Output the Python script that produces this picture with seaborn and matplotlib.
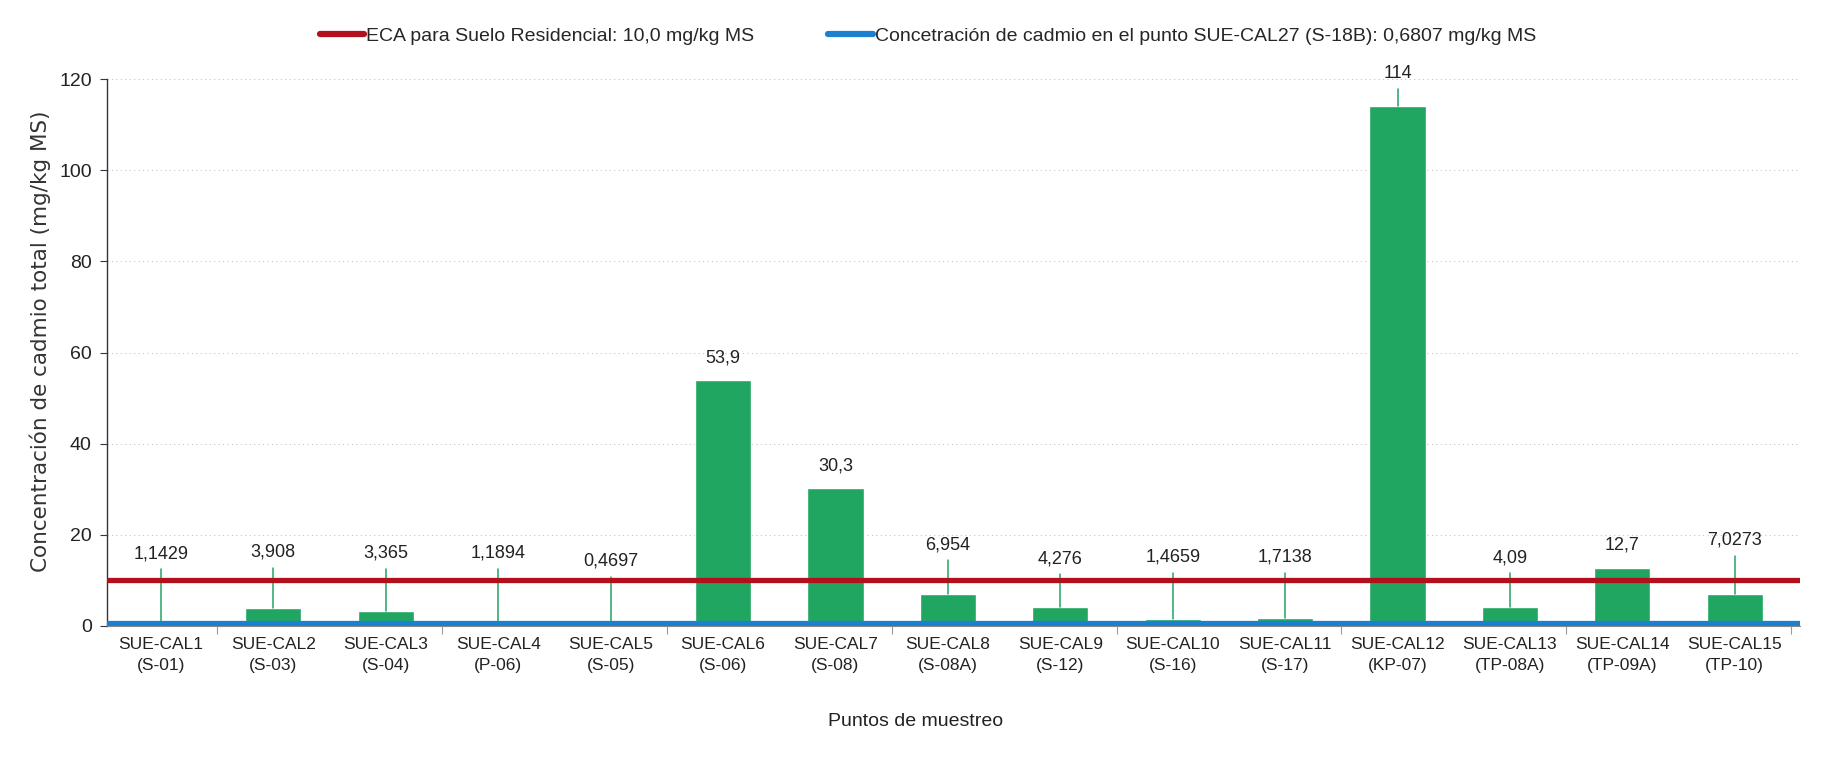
#! /usr/bin/env python3
'''
Concentracion de cadmio total por punto de muestreo (barras + ECA)
'''

import matplotlib
matplotlib.use('Agg')
import matplotlib.pyplot as plt
from matplotlib.lines import Line2D
import seaborn as sns
import pandas as pd

# data
puntos = ['SUE-CAL1', 'SUE-CAL2', 'SUE-CAL3', 'SUE-CAL4', 'SUE-CAL5', 'SUE-CAL6', 'SUE-CAL7', 'SUE-CAL8',
          'SUE-CAL9', 'SUE-CAL10', 'SUE-CAL11', 'SUE-CAL12', 'SUE-CAL13', 'SUE-CAL14', 'SUE-CAL15']
codigos = ['S-01', 'S-03', 'S-04', 'P-06', 'S-05', 'S-06', 'S-08', 'S-08A',
           'S-12', 'S-16', 'S-17', 'KP-07', 'TP-08A', 'TP-09A', 'TP-10']
cadmio = [1.1429, 3.908, 3.365, 1.1894, 0.4697, 53.9, 30.3, 6.954,
          4.276, 1.4659, 1.7138, 114, 4.09, 12.7, 7.0273]
eca = 10.0
referencia = 0.6807
yticks = [0, 20, 40, 60, 80, 100, 120]

# where the value labels sit
label_y = [15.9, 16.2, 16.0, 16.0, 14.2, 58.7, 35.1, 17.8, 14.8, 15.1, 15.1, 121.3, 15.0, 17.7, 18.8]

# styles
GREEN = '#20a661'
RED = '#b3101d'
BLUE = '#1c7fcf'
NARROW = ['Liberation Sans Narrow', 'Liberation Sans', 'DejaVu Sans']

sns.set_style('white')
plt.rcParams['font.family'] = NARROW

df = pd.DataFrame({'punto': ['%s\n(%s)' % (p, c) for p, c in zip(puntos, codigos)], 'cadmio': cadmio})

fig = plt.figure(figsize=(18.3, 7.6), dpi=100)
ax = fig.add_axes([107 / 1830, 1 - 626 / 760, (1800 - 107) / 1830, (626 - 79) / 760])

sns.barplot(data=df, x='punto', y='cadmio', color=GREEN, saturation=1, width=0.5, ax=ax, zorder=2)
ax.set_xlim(-0.48, 14.58)
ax.set_ylim(0, 120)
ax.set_yticks(yticks)

# reference lines
ax.axhline(eca, color=RED, lw=3.8, zorder=3)
ax.axhline(referencia, color=BLUE, lw=3.8, zorder=3)

# value labels with leader lines
for i, (v, ly) in enumerate(zip(cadmio, label_y)):
    txt = str(v).replace('.', ',')
    ax.text(i, ly, txt, ha='center', va='center', fontsize=13, color='#222222', clip_on=False, zorder=4)
    top = ly - 3.4
    if top - v > 2:
        ax.plot([i, i], [v, top], color=GREEN, lw=1.1, zorder=2.5, clip_on=False)

# grid and axes
ax.yaxis.grid(True, linestyle=(0, (1, 3)), color='#c4c4c4', lw=0.8)
ax.xaxis.grid(False)
ax.set_axisbelow(True)
for s in ['top', 'right']:
    ax.spines[s].set_visible(False)
ax.spines['left'].set_color('#333344')
ax.spines['left'].set_linewidth(1.0)
ax.spines['bottom'].set_color('#888888')
ax.tick_params(axis='y', which='major', length=5, width=0.8, color='#333344', labelsize=14, pad=6,
               labelcolor='#222222', left=True)
ax.tick_params(axis='x', which='major', length=0, labelsize=12.5, pad=8, labelcolor='#222222')
ax.set_xticks([k + 0.5 for k in range(0, 15, 2)], minor=True)
ax.tick_params(axis='x', which='minor', length=6, width=0.8, color='#999999', bottom=True)
for lbl in ax.get_xticklabels():
    lbl.set_linespacing(1.45)

ax.set_xlabel('')
ax.set_ylabel('Concentración de cadmio total (mg/kg MS)', fontsize=15.5, family='DejaVu Sans',
              color='#333333')
ax.yaxis.set_label_coords(-56 / 1693, 0.52)
fig.text(916 / 1830, 1 - 721 / 760, 'Puntos de muestreo', ha='center', va='center', fontsize=14,
         color='#222222')

# legend on top
handles = [Line2D([0], [0], color=RED, lw=4.5),
           Line2D([0], [0], color=BLUE, lw=4.5)]
labels = ['ECA para Suelo Residencial: 10,0 mg/kg MS',
          'Concetración de cadmio en el punto SUE-CAL27 (S-18B): 0,6807 mg/kg MS']
fig.legend(handles, labels, loc='center', bbox_to_anchor=(0.507, 1 - 36 / 760), ncol=2, frameon=False,
           fontsize=14, handlelength=2.3, handletextpad=0.1, columnspacing=3.8)

fig.savefig('out.png', dpi=100)
